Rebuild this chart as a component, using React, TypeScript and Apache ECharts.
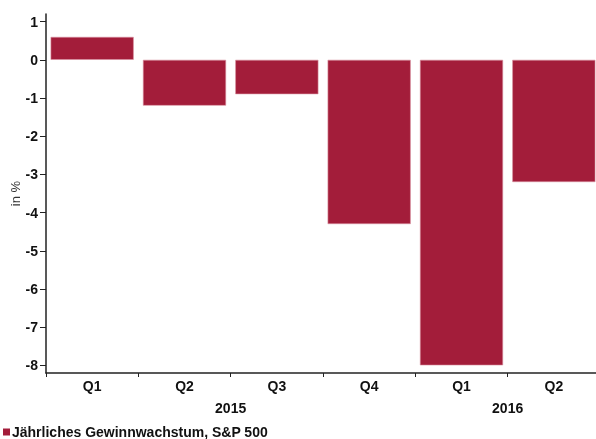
import React, { useEffect, useRef } from "react";
import * as echarts from "echarts";

const quarters = ["Q1", "Q2", "Q3", "Q4", "Q1", "Q2"];
const growth = [0.6, -1.2, -0.9, -4.3, -8.0, -3.2];
const years = ["2015", "2016"];
const yearSpans = [4, 2];
const yTicks = [-8, -7, -6, -5, -4, -3, -2, -1, 0, 1];
const seriesName = "Jährliches Gewinnwachstum, S&P 500";

export default function App() {
  const ref = useRef<HTMLDivElement>(null);
  useEffect(() => {
    if (!ref.current) return;
    const chart = echarts.init(ref.current, undefined, { renderer: "svg" });
    const yearCenters: number[] = [];
    let acc = 0;
    yearSpans.forEach((s) => {
      yearCenters.push(acc + s / 2);
      acc += s;
    });
    const font = "Liberation Sans, Arial, sans-serif";
    chart.setOption({
      animation: false,
      textStyle: { fontFamily: font },
      grid: { left: 46, right: -4, top: 14, bottom: 66, containLabel: false, outerBoundsMode: "none" },
      legend: {
        left: -2,
        bottom: -5,
        icon: "rect",
        itemWidth: 7,
        itemHeight: 7,
        itemGap: 4,
        itemStyle: { borderWidth: 0 },
        textStyle: { fontSize: 14, fontWeight: "bold", color: "#111", fontFamily: font, padding: [0, 0, 0, -3] },
        data: [seriesName],
      },
      xAxis: [
        {
          type: "category",
          data: quarters,
          position: "bottom",
          axisLine: { onZero: false, lineStyle: { color: "#222", width: 1.5 } },
          axisTick: { show: true, length: 4, lineStyle: { color: "#222" } },
          axisLabel: { fontSize: 14, fontWeight: "bold", color: "#111", margin: 6, fontFamily: font },
        },
        {
          type: "value",
          min: 0,
          max: acc,
          position: "bottom",
          axisLine: { show: false, onZero: false },
          axisTick: { show: false },
          splitLine: { show: false },
          axisLabel: {
            customValues: yearCenters,
            formatter: (v: number) => {
              const i = yearCenters.findIndex((c) => Math.abs(c - v) < 1e-6);
              return i >= 0 ? years[i] : "";
            },
            fontSize: 14,
            fontWeight: "bold",
            color: "#111",
            margin: 28,
            fontFamily: font,
          },
        },
      ],
      yAxis: {
        type: "value",
        min: -8.2,
        max: 1.2,
        name: "in %",
        nameLocation: "middle",
        nameGap: 24,
        nameMoveOverlap: false,
        nameRotate: 90,
        nameTextStyle: { fontSize: 13, color: "#333", fontFamily: font },
        axisLine: { show: true, onZero: false, lineStyle: { color: "#222", width: 1.5 } },
        axisTick: { show: true, length: 6, customValues: yTicks, lineStyle: { color: "#222" } },
        axisLabel: {
          customValues: yTicks,
          fontSize: 14,
          fontWeight: "bold",
          color: "#111",
          margin: 8,
          fontFamily: font,
        },
        splitLine: { show: false },
      },
      series: [
        {
          name: seriesName,
          type: "bar",
          xAxisIndex: 0,
          data: growth,
          barCategoryGap: "10%",
          itemStyle: { color: "#A31D3A", borderColor: "#D890A0", borderWidth: 0.6 },
        },
      ],
    });
    return () => chart.dispose();
  }, []);
  return (
    <div
      ref={ref}
      style={{ position: "fixed", left: 0, top: 0, width: 596, height: 439 }}
    />
  );
}
